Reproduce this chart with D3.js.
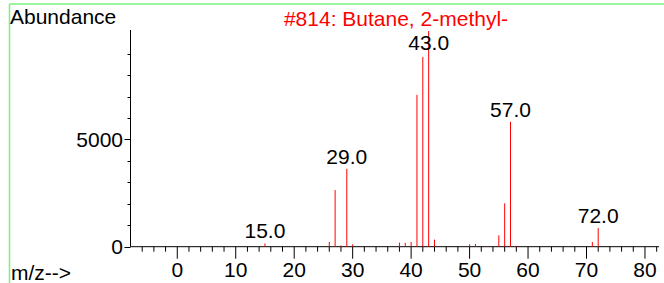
<!DOCTYPE html>
<html>
<head>
<meta charset="utf-8">
<script src="https://cdn.jsdelivr.net/npm/d3@7/dist/d3.min.js"></script>
<style>
  html, body { margin: 0; padding: 0; background: #fff; }
  svg text { font-family: "Liberation Sans", Arial, sans-serif; }
</style>
</head>
<body>
<svg id="chart" width="664" height="283"></svg>
<script>
// m/z values of the peaks
const mz = [15, 26, 27, 28, 29, 30, 38, 39, 40, 41, 42, 43, 44, 50, 51, 53, 55, 56, 57, 58, 71, 72];
// abundance of each peak
const abundance = [150, 220, 2640, 60, 3630, 110, 190, 180, 220, 7075, 8845, 10050, 330, 110, 130, 30, 530, 2020, 5820, 40, 220, 870];
// peaks that carry a label
const labeledPeaks = [15, 29, 43, 57, 72];
// axis tick labels
const xTickLabels = [0, 10, 20, 30, 40, 50, 60, 70, 80];
const yTickLabels = [0, 5000];
const title = "#814: Butane, 2-methyl-";

const svg = d3.select("#chart");
const font = 21;

const x = d3.scaleLinear().domain([-8, 82.4]).range([130.5, 659]);
const y = d3.scaleLinear().domain([0, 10100]).range([246.7, 30]);

// green frame
svg.append("line").attr("x1", 9.5).attr("x2", 664).attr("y1", 4).attr("y2", 4)
  .attr("stroke", "#7df07d").attr("stroke-width", 1.5);
svg.append("line").attr("x1", 9.5).attr("x2", 9.5).attr("y1", 4).attr("y2", 283)
  .attr("stroke", "#7df07d").attr("stroke-width", 1.5);

// y axis
const yAxisG = svg.append("g");
yAxisG.append("line").attr("x1", x(-8)).attr("x2", x(-8)).attr("y1", y(0)).attr("y2", y(10100))
  .attr("stroke", "#000").attr("stroke-width", 1);
const yMinor = d3.range(0, 10000, 1000);
yAxisG.selectAll("line.yt").data(yMinor).enter().append("line")
  .attr("class", "yt")
  .attr("x1", d => x(-8) - (yTickLabels.includes(d) ? 6 : 3))
  .attr("x2", x(-8))
  .attr("y1", d => Math.round(y(d)) + 0.5).attr("y2", d => Math.round(y(d)) + 0.5)
  .attr("stroke", "#000").attr("stroke-width", 1);
yAxisG.selectAll("text").data(yTickLabels).enter().append("text")
  .attr("x", 123).attr("y", d => y(d) + 7.5)
  .attr("text-anchor", "end").attr("font-size", font).attr("fill", "#000")
  .text(d => d);

// x axis
const xAxisG = svg.append("g");
xAxisG.append("line").attr("x1", x(-8)).attr("x2", x(82.4)).attr("y1", y(0)).attr("y2", y(0))
  .attr("stroke", "#000").attr("stroke-width", 1);
const xMinor = d3.range(-6, 83, 2);
xAxisG.selectAll("line.xt").data(xMinor).enter().append("line")
  .attr("class", "xt")
  .attr("x1", d => x(d)).attr("x2", d => x(d))
  .attr("y1", y(0)).attr("y2", d => y(0) + (d % 10 === 0 ? 12 : 5))
  .attr("stroke", "#000").attr("stroke-width", 1);
xAxisG.selectAll("text").data(xTickLabels).enter().append("text")
  .attr("x", d => x(d)).attr("y", 277)
  .attr("text-anchor", "middle").attr("font-size", font).attr("fill", "#000")
  .text(d => d);

// peaks
const peaks = mz.map((m, i) => ({ m, a: abundance[i] }));
svg.append("g").selectAll("line").data(peaks).enter().append("line")
  .attr("x1", d => x(d.m)).attr("x2", d => x(d.m))
  .attr("y1", y(0)).attr("y2", d => y(d.a))
  .attr("stroke", "#ff0000").attr("stroke-width", 1);

// peak labels
svg.append("g").selectAll("text").data(peaks.filter(d => labeledPeaks.includes(d.m))).enter().append("text")
  .attr("x", d => x(d.m)).attr("y", d => Math.max(50, y(d.a) - 5))
  .attr("text-anchor", "middle").attr("font-size", font).attr("fill", "#000")
  .text(d => d.m.toFixed(1));

// texts
svg.append("text").attr("x", 10).attr("y", 24).attr("font-size", font).attr("fill", "#000").text("Abundance");
svg.append("text").attr("x", 396).attr("y", 26).attr("text-anchor", "middle").attr("font-size", font).attr("fill", "#ff0000").text(title);
svg.append("text").attr("x", 11).attr("y", 280).attr("font-size", font).attr("fill", "#000").text("m/z-->");
</script>
</body>
</html>
